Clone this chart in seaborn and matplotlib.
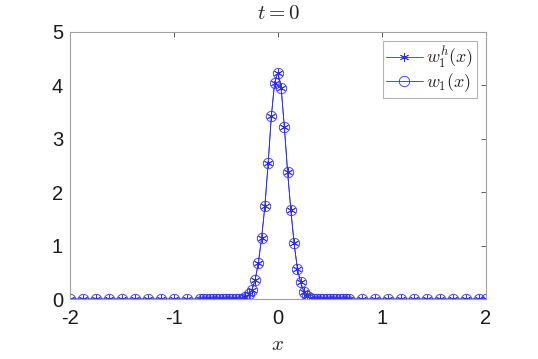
import matplotlib
matplotlib.use("Agg")
from matplotlib import pyplot as plt
import seaborn as sns
import pandas as pd

# grid: coarse on the sides, fine around the bump
x_left = [-2.0, -1.875, -1.75, -1.625, -1.5, -1.375, -1.25, -1.125, -1.0, -0.875, -0.75]
x_fine = [-0.71875, -0.6875, -0.65625, -0.625, -0.59375, -0.5625, -0.53125, -0.5,
          -0.46875, -0.4375, -0.40625, -0.375, -0.34375, -0.3125, -0.28125, -0.25,
          -0.21875, -0.1875, -0.15625, -0.125, -0.09375, -0.0625, -0.03125, 0.0,
          0.03125, 0.0625, 0.09375, 0.125, 0.15625, 0.1875, 0.21875, 0.25,
          0.28125, 0.3125, 0.34375, 0.375, 0.40625, 0.4375, 0.46875, 0.5,
          0.53125, 0.5625, 0.59375, 0.625, 0.65625, 0.6875]
x_right = [0.8125, 0.9375, 1.0625, 1.1875, 1.3125, 1.4375, 1.5625, 1.6875, 1.8125, 1.9375, 2.0]

w_left = [0.0] * 11
w_fine = [0.0, 0.0, 0.0, 0.0, 0.0, 0.0, 0.0, 0.0, 0.0, 0.0, 0.0, 0.0,
          0.01, 0.03, 0.09, 0.17, 0.36, 0.68, 1.15, 1.74, 2.54, 3.43, 4.05,
          4.24,
          3.95, 3.22, 2.37, 1.66, 1.04, 0.57, 0.31, 0.14, 0.06, 0.02, 0.01,
          0.0, 0.0, 0.0, 0.0, 0.0, 0.0, 0.0, 0.0, 0.0, 0.0, 0.0]
w_right = [0.0] * 11

x_vals = x_left + x_fine + x_right
w1h_vals = w_left + w_fine + w_right   # numerical solution
w1_vals = w_left + w_fine + w_right    # exact solution

x_ticks = [-2, -1, 0, 1, 2]
y_ticks = [0, 1, 2, 3, 4, 5]

sns.set_style("white")
plt.rcParams['font.family'] = ['Liberation Sans', 'DejaVu Sans']
plt.rcParams['mathtext.fontset'] = 'cm'
plt.rcParams['axes.unicode_minus'] = False

df = pd.DataFrame({"x": x_vals, "w1h": w1h_vals, "w1": w1_vals})

fig = plt.figure(figsize=(5.38, 3.59), dpi=100)
ax = fig.add_axes([0.130, 0.167, 0.773, 0.744])

blue = "#2b2bff"
sns.lineplot(data=df, x="x", y="w1h", ax=ax, color=blue, lw=0.6,
             marker=(6, 2, 0), markersize=6.5, markeredgewidth=0.6,
             markeredgecolor=blue, label=r"$w_1^h(x)$", estimator=None)
sns.lineplot(data=df, x="x", y="w1", ax=ax, color=blue, lw=0.6,
             marker="o", markersize=7.5, markeredgewidth=0.6,
             markerfacecolor="none", markeredgecolor=blue,
             label=r"$w_1(x)$", estimator=None)

ax.set_xlim(-2, 2)
ax.set_ylim(0, 5)
ax.set_xticks(x_ticks)
ax.set_yticks(y_ticks)
ax.tick_params(direction="in", length=3.5, width=0.6, color="#444444",
               top=True, right=True, labelsize=14.5, labelcolor="#1a1a1a")
ax.tick_params(axis="x", pad=7)
ax.tick_params(axis="y", pad=5)
for s in ax.spines.values():
    s.set_color("#a0a0a0")
    s.set_linewidth(0.8)

ax.set_title(r"$t=0$", fontsize=15, pad=9)
ax.set_xlabel(r"$x$", fontsize=15, labelpad=5)
ax.set_ylabel("")

leg = ax.legend(loc="upper right", fontsize=13, frameon=True, fancybox=False,
                handlelength=2.0, borderpad=0.2, labelspacing=0.05,
                handletextpad=0.2, borderaxespad=0.5)
leg.get_frame().set_edgecolor("#a0a0a0")
leg.get_frame().set_linewidth(0.8)

fig.savefig("out.png", dpi=100)
